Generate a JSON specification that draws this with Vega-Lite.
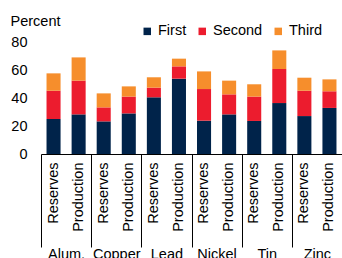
{
  "$schema": "https://vega.github.io/schema/vega-lite/v6.json",
  "autosize": "none",
  "width": 301,
  "height": 112,
  "padding": {"left": 41, "top": 42, "right": 0, "bottom": 104},
  "background": "white",
  "config": {
    "view": {"stroke": null},
    "font": "Liberation Sans",
    "axis": {"labelColor": "#000", "titleColor": "#000", "labelFontSize": 14.5, "titleFontSize": 14.5, "titleFontWeight": "normal", "grid": false},
    "legend": {"labelColor": "#000", "labelFontSize": 14.5}
  },
  "data": {
    "values": [
      {"metal": "Alum.", "type": "Reserves", "rank": "First", "value": 25},
      {"metal": "Alum.", "type": "Reserves", "rank": "Second", "value": 20.2},
      {"metal": "Alum.", "type": "Reserves", "rank": "Third", "value": 12.4},
      {"metal": "Alum.", "type": "Production", "rank": "First", "value": 28.3},
      {"metal": "Alum.", "type": "Production", "rank": "Second", "value": 24.1},
      {"metal": "Alum.", "type": "Production", "rank": "Third", "value": 16.6},
      {"metal": "Copper", "type": "Reserves", "rank": "First", "value": 23.3},
      {"metal": "Copper", "type": "Reserves", "rank": "Second", "value": 10},
      {"metal": "Copper", "type": "Reserves", "rank": "Third", "value": 10},
      {"metal": "Copper", "type": "Production", "rank": "First", "value": 29},
      {"metal": "Copper", "type": "Production", "rank": "Second", "value": 12},
      {"metal": "Copper", "type": "Production", "rank": "Third", "value": 7.3},
      {"metal": "Lead", "type": "Reserves", "rank": "First", "value": 40.5},
      {"metal": "Lead", "type": "Reserves", "rank": "Second", "value": 6.9},
      {"metal": "Lead", "type": "Reserves", "rank": "Third", "value": 7.4},
      {"metal": "Lead", "type": "Production", "rank": "First", "value": 53.8},
      {"metal": "Lead", "type": "Production", "rank": "Second", "value": 8.8},
      {"metal": "Lead", "type": "Production", "rank": "Third", "value": 5.5},
      {"metal": "Nickel", "type": "Reserves", "rank": "First", "value": 23.8},
      {"metal": "Nickel", "type": "Reserves", "rank": "Second", "value": 22.6},
      {"metal": "Nickel", "type": "Reserves", "rank": "Third", "value": 12.6},
      {"metal": "Nickel", "type": "Production", "rank": "First", "value": 28.3},
      {"metal": "Nickel", "type": "Production", "rank": "Second", "value": 14.3},
      {"metal": "Nickel", "type": "Production", "rank": "Third", "value": 9.8},
      {"metal": "Tin", "type": "Reserves", "rank": "First", "value": 23.6},
      {"metal": "Tin", "type": "Reserves", "rank": "Second", "value": 17.4},
      {"metal": "Tin", "type": "Reserves", "rank": "Third", "value": 8.8},
      {"metal": "Tin", "type": "Production", "rank": "First", "value": 36.4},
      {"metal": "Tin", "type": "Production", "rank": "Second", "value": 24.3},
      {"metal": "Tin", "type": "Production", "rank": "Third", "value": 13.3},
      {"metal": "Zinc", "type": "Reserves", "rank": "First", "value": 27.1},
      {"metal": "Zinc", "type": "Reserves", "rank": "Second", "value": 18.1},
      {"metal": "Zinc", "type": "Reserves", "rank": "Third", "value": 9.3},
      {"metal": "Zinc", "type": "Production", "rank": "First", "value": 32.9},
      {"metal": "Zinc", "type": "Production", "rank": "Second", "value": 11.9},
      {"metal": "Zinc", "type": "Production", "rank": "Third", "value": 8.5}
    ]
  },
  "transform": [{"calculate": "datum.metal + '|' + datum.type", "as": "key"}],
  "resolve": {"scale": {"x": "independent"}, "axis": {"x": "independent"}},
  "layer": [
    {
      "mark": {"type": "bar"},
      "encoding": {
        "x": {
          "field": "key", "type": "nominal", "sort": null,
          "scale": {"paddingInner": 0.44, "paddingOuter": 0.22},
          "axis": {"orient": "bottom", "title": null, "labelAngle": -90, "labelExpr": "split(datum.value, '|')[1]", "ticks": false, "labelPadding": 8, "domainColor": "#000", "domainWidth": 1.2}
        },
        "y": {
          "field": "value", "type": "quantitative", "aggregate": "sum", "stack": "zero",
          "scale": {"domain": [0, 80], "nice": false},
          "axis": {"title": "Percent", "values": [0, 20, 40, 60, 80], "domain": false, "ticks": false, "labelPadding": 14, "titleAngle": 0, "titleAlign": "left", "titleBaseline": "alphabetic", "titleX": -31, "titleY": -17}
        },
        "color": {
          "field": "rank", "type": "nominal",
          "scale": {"domain": ["First", "Second", "Third"], "range": ["#00234A", "#EC1C2E", "#F68E2C"]},
          "legend": {"title": null, "orient": "none", "direction": "horizontal", "legendX": 99, "legendY": -18, "symbolType": "square", "symbolSize": 56, "symbolStrokeWidth": 0, "labelOffset": 3.5, "columnPadding": 8}
        },
        "order": {"field": "rank", "sort": "ascending"}
      }
    },
    {
      "mark": {"type": "rule", "opacity": 0},
      "encoding": {
        "x": {
          "field": "metal", "type": "nominal", "sort": null,
          "scale": {"paddingInner": 0, "paddingOuter": 0},
          "axis": {"orient": "bottom", "title": null, "domain": false, "labelAngle": 0, "tickBand": "extent", "tickSize": 93, "tickColor": "#000", "tickWidth": 1, "labelPadding": 0.3, "labelBaseline": "top"}
        }
      }
    }
  ]
}
